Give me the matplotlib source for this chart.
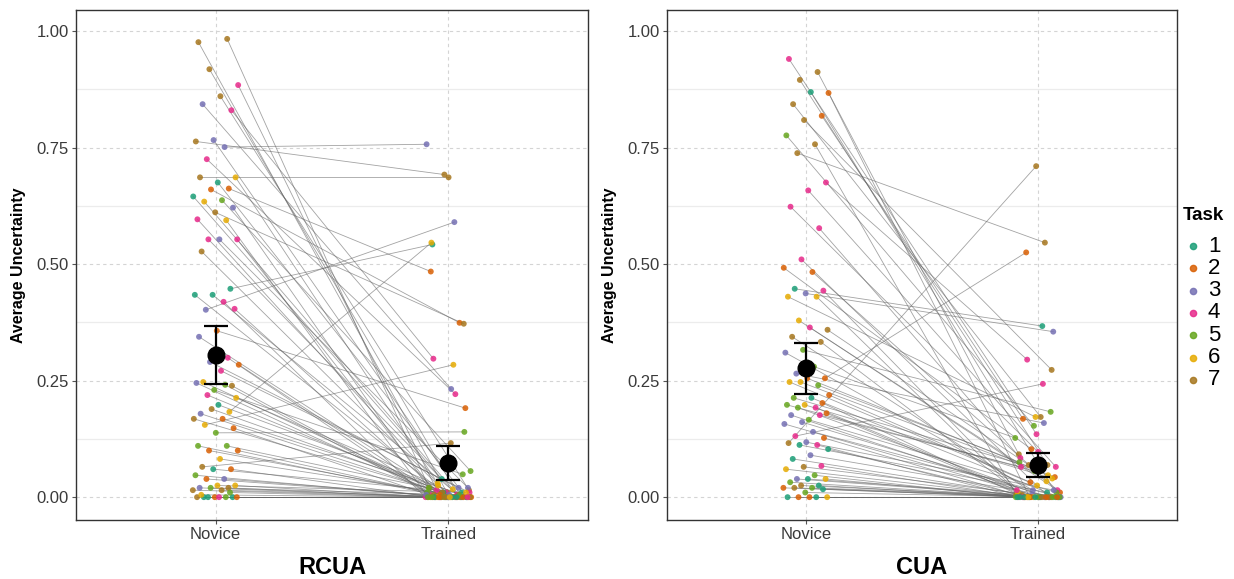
import matplotlib
matplotlib.use("Agg")
import matplotlib.pyplot as plt
from matplotlib.lines import Line2D
import numpy as np

plt.rcParams['font.family'] = ['Liberation Sans', 'DejaVu Sans']

# ---------------- data ----------------
conditions = ["Novice", "Trained"]
task_labels = ["1", "2", "3", "4", "5", "6", "7"]
task_colors = ["#1B9E77", "#D95F02", "#7570B3", "#E7298A", "#66A61E", "#E6AB02", "#A6761D"]
panel_titles = ["RCUA", "CUA"]

rcua_novice = [0.976, 0.983, 0.918, 0.884, 0.860, 0.843, 0.830, 0.766, 0.763, 0.751,
               0.725, 0.686, 0.675, 0.686, 0.662, 0.660, 0.645, 0.637, 0.634, 0.621,
               0.611, 0.596, 0.594, 0.553, 0.553, 0.553, 0.527, 0.447, 0.434, 0.434,
               0.419, 0.402, 0.404, 0.357, 0.344, 0.299, 0.290, 0.284, 0.271, 0.247,
               0.239, 0.230, 0.245, 0.241, 0.219, 0.213, 0.198, 0.179, 0.183, 0.189,
               0.168, 0.168, 0.155, 0.148, 0.138, 0.110, 0.110, 0.100, 0.100, 0.082,
               0.065, 0.060, 0.060, 0.047, 0.039, 0.039, 0.025, 0.025, 0.020, 0.020,
               0.020, 0.015, 0.015, 0.000, 0.000, 0.000, 0.000, 0.000, 0.000, 0.000,
               0.000, 0.005, 0.010]
rcua_trained = [0.010, 0.020, 0.005, 0.000, 0.015, 0.232, 0.297, 0.000, 0.692, 0.757,
                0.221, 0.030, 0.000, 0.686, 0.484, 0.374, 0.039, 0.056, 0.017, 0.000,
                0.372, 0.010, 0.000, 0.005, 0.000, 0.020, 0.000, 0.542, 0.000, 0.010,
                0.000, 0.590, 0.015, 0.191, 0.000, 0.005, 0.020, 0.000, 0.010, 0.000,
                0.005, 0.049, 0.000, 0.010, 0.000, 0.025, 0.000, 0.005, 0.546, 0.000,
                0.010, 0.000, 0.284, 0.000, 0.140, 0.000, 0.020, 0.000, 0.005, 0.000,
                0.116, 0.000, 0.010, 0.000, 0.005, 0.000, 0.000, 0.010, 0.000, 0.000,
                0.005, 0.000, 0.000, 0.000, 0.000, 0.000, 0.000, 0.000, 0.000, 0.000,
                0.000, 0.000, 0.000]
rcua_task = [7, 7, 7, 4, 7, 3, 4, 3, 7, 3,
             4, 6, 1, 7, 2, 2, 1, 5, 6, 3,
             7, 4, 6, 4, 4, 3, 7, 1, 1, 1,
             4, 3, 4, 2, 3, 4, 3, 2, 4, 6,
             7, 5, 3, 5, 4, 6, 1, 3, 6, 7,
             7, 2, 6, 2, 5, 5, 5, 2, 2, 6,
             7, 2, 1, 5, 3, 2, 6, 6, 3, 7,
             5, 7, 7, 1, 1, 2, 7, 5, 1, 2,
             4, 6, 5]

cua_novice = [0.940, 0.912, 0.895, 0.867, 0.869, 0.843, 0.818, 0.809, 0.776, 0.757,
              0.738, 0.675, 0.658, 0.623, 0.577, 0.510, 0.492, 0.483, 0.447, 0.443,
              0.437, 0.430, 0.430, 0.379, 0.359, 0.364, 0.344, 0.333, 0.316, 0.310,
              0.280, 0.265, 0.255, 0.255, 0.247, 0.240, 0.247, 0.219, 0.213, 0.213,
              0.202, 0.198, 0.198, 0.192, 0.192, 0.180, 0.166, 0.176, 0.176, 0.161,
              0.157, 0.140, 0.131, 0.127, 0.118, 0.116, 0.112, 0.112, 0.103, 0.090,
              0.082, 0.067, 0.065, 0.060, 0.047, 0.039, 0.039, 0.039, 0.032, 0.025,
              0.025, 0.020, 0.020, 0.020, 0.017, 0.010, 0.000, 0.000, 0.000, 0.000,
              0.000]
cua_trained = [0.135, 0.092, 0.069, 0.000, 0.000, 0.172, 0.168, 0.273, 0.153, 0.005,
               0.546, 0.295, 0.065, 0.097, 0.084, 0.000, 0.103, 0.010, 0.367, 0.000,
               0.355, 0.172, 0.010, 0.034, 0.069, 0.015, 0.000, 0.005, 0.183, 0.015,
               0.127, 0.159, 0.525, 0.043, 0.025, 0.075, 0.047, 0.032, 0.000, 0.058,
               0.000, 0.040, 0.056, 0.015, 0.000, 0.000, 0.010, 0.000, 0.065, 0.000,
               0.005, 0.000, 0.243, 0.000, 0.015, 0.710, 0.000, 0.010, 0.000, 0.000,
               0.000, 0.000, 0.000, 0.000, 0.000, 0.000, 0.000, 0.000, 0.000, 0.000,
               0.000, 0.000, 0.000, 0.000, 0.000, 0.000, 0.000, 0.000, 0.000, 0.000,
               0.000]
cua_task = [4, 7, 7, 2, 1, 7, 2, 7, 5, 7,
            7, 4, 4, 4, 4, 4, 2, 2, 1, 4,
            3, 6, 6, 6, 7, 4, 7, 7, 5, 3,
            5, 3, 2, 2, 6, 5, 6, 2, 1, 5,
            2, 6, 5, 4, 5, 2, 5, 3, 4, 3,
            3, 3, 4, 2, 3, 7, 4, 1, 1, 3,
            1, 4, 7, 6, 5, 3, 6, 1, 5, 1,
            7, 2, 5, 7, 1, 5, 1, 1, 2, 6,
            2]

# summary (mean and interval)
rcua_mean = [0.305, 0.073]
rcua_low = [0.243, 0.037]
rcua_high = [0.367, 0.110]
cua_mean = [0.277, 0.069]
cua_low = [0.221, 0.043]
cua_high = [0.331, 0.095]

panels = [
    (rcua_novice, rcua_trained, rcua_task, rcua_mean, rcua_low, rcua_high),
    (cua_novice, cua_trained, cua_task, cua_mean, cua_low, cua_high),
]

# ---------------- figure ----------------
W, H = 1234, 579
fig = plt.figure(figsize=(W / 100, H / 100), dpi=100)
axes = [fig.add_axes([76 / W, 1 - 520 / H, 512 / W, 510 / H]),
        fig.add_axes([667 / W, 1 - 520 / H, 510 / W, 510 / H])]

tick_col = "#3a3a3a"

def jitter(n, seed):
    k = np.arange(n)
    return ((k * 0.6180339887 + seed) % 1.0 - 0.5) * 0.2

for ax, (nov, tra, task, mean, lo, hi), title in zip(axes, panels, panel_titles):
    nov = np.asarray(nov); tra = np.asarray(tra); task = np.asarray(task)
    n = len(nov)
    x1 = 1 + jitter(n, 0.13)
    x2 = 2 + jitter(n, 0.47)
    cols = [task_colors[t - 1] for t in task]

    # grid
    for yv in [0.125, 0.375, 0.625, 0.875]:
        ax.axhline(yv, color="#ececec", lw=0.9, zorder=0)
    for yv in [0, 0.25, 0.5, 0.75, 1.0]:
        ax.axhline(yv, color="#d4d4d4", lw=0.8, ls=(0, (3, 3)), zorder=0)
    for xv in [1, 2]:
        ax.axvline(xv, color="#d4d4d4", lw=0.8, ls=(0, (3, 3)), zorder=0)

    # connecting lines
    for i in range(n):
        ax.plot([x1[i], x2[i]], [nov[i], tra[i]], color="#666666", lw=0.6, alpha=0.6, zorder=1)

    ax.scatter(x1, nov, s=18, c=cols, alpha=0.85, edgecolors="none", zorder=2)
    ax.scatter(x2, tra, s=18, c=cols, alpha=0.85, edgecolors="none", zorder=2)

    mean = np.asarray(mean)
    yerr = [mean - np.asarray(lo), np.asarray(hi) - mean]
    ax.errorbar([1, 2], mean, yerr=yerr, fmt="o", color="black", ms=12,
                capsize=8.5, elinewidth=1.6, capthick=1.6, zorder=5)

    ax.set_xlim(0.4, 2.6)
    ax.set_ylim(-0.049, 1.045)
    ax.set_xticks([1, 2])
    ax.set_xticklabels(conditions)
    ax.set_yticks([0, 0.25, 0.5, 0.75, 1.0])
    ax.set_yticklabels(["0.00", "0.25", "0.50", "0.75", "1.00"])
    ax.tick_params(axis="both", length=3, width=0.8, color="#555555",
                   labelsize=12, labelcolor=tick_col, pad=2)
    for sp in ax.spines.values():
        sp.set_color("#333333")
        sp.set_linewidth(1.0)
    ax.set_ylabel("Average Uncertainty", fontsize=11.5, fontweight="bold", labelpad=8)
    ax.set_xlabel(title, fontsize=17, fontweight="bold", labelpad=10)

# legend (drawn manually for exact placement)
fig.text(1183 / W, 1 - 215 / H, "Task", fontsize=13.5, fontweight="bold",
         ha="left", va="center")
for i, (lab, col) in enumerate(zip(task_labels, task_colors)):
    yy = 1 - (246 + 22.3 * i) / H
    fig.add_artist(Line2D([1193 / W], [yy], transform=fig.transFigure, marker="o",
                          ls="none", color=col, ms=4.5, alpha=0.85))
    fig.text(1208 / W, yy, lab, fontsize=16, ha="left", va="center")

fig.savefig("out.png", dpi=100, facecolor="white")
